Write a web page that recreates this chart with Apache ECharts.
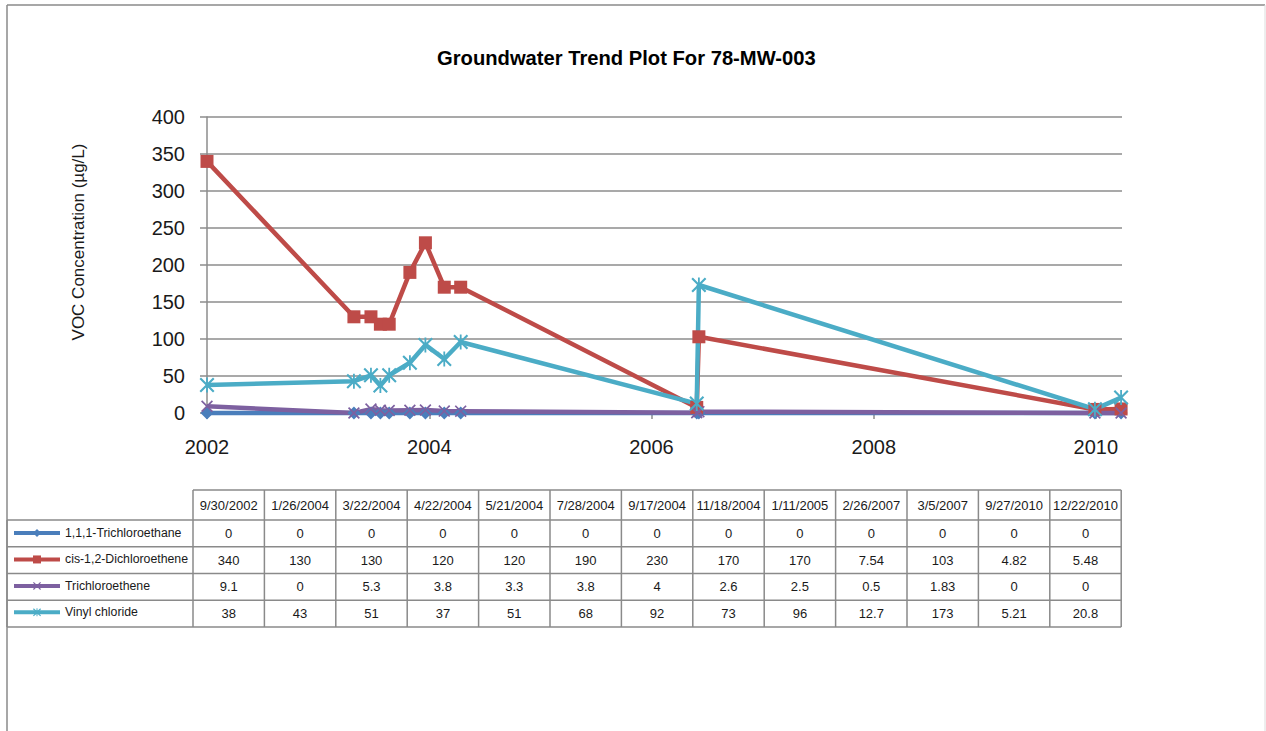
<!DOCTYPE html>
<html><head><meta charset="utf-8">
<script src="https://cdn.jsdelivr.net/npm/echarts@6/dist/echarts.min.js"></script>
<style>html,body{margin:0;padding:0;background:#fff}#c{width:1266px;height:731px}</style>
</head><body><div id="c"></div>
<script>
// ---- data ----
const dates = ['9/30/2002','1/26/2004','3/22/2004','4/22/2004','5/21/2004','7/28/2004','9/17/2004','11/18/2004','1/11/2005','2/26/2007','3/5/2007','9/27/2010','12/22/2010'];
const seriesNames = ['1,1,1-Trichloroethane','cis-1,2-Dichloroethene','Trichloroethene','Vinyl chloride'];
const tca = [0,0,0,0,0,0,0,0,0,0,0,0,0];
const dce = [340,130,130,120,120,190,230,170,170,7.54,103,4.82,5.48];
const tce = [9.1,0,5.3,3.8,3.3,3.8,4,2.6,2.5,0.5,1.83,0,0];
const vc  = [38,43,51,37,51,68,92,73,96,12.7,173,5.21,20.8];
const xTickLabels = ['2002','2004','2006','2008','2010'];
const yMin = 0, yMax = 400, yStep = 50;

// ---- helpers ----
const FONT = '"Liberation Sans", Arial, sans-serif';
function parseDate(s){ const p = s.split('/').map(Number); return Date.UTC(p[2], p[0]-1, p[1]); }
const t0 = parseDate(dates[0]);
const DAY = 86400000;
const days = dates.map(d => (parseDate(d) - t0) / DAY);
// axis ticks: anniversaries of the first sample date, labelled by year
const m0 = dates[0].split('/');
const xTickValues = xTickLabels.map(y => (parseDate(m0[0] + '/' + m0[1] + '/' + y) - t0) / DAY);
const xMax = days[days.length - 1] + 3;

const colors = ['#4A7EBB','#BE4B48','#7D60A0','#4BACC6'];
const xPath = 'path://M1,0 L5,4 L9,0 L10,1 L6,5 L10,9 L9,10 L5,6 L1,10 L0,9 L4,5 L0,1 Z';
const starPath = 'path://M1,0 L5,4 L9,0 L10,1 L6,5 L10,9 L9,10 L5,6 L1,10 L0,9 L4,5 L0,1 Z M4.4,0 L5.6,0 L5.6,10 L4.4,10 Z';
const symbols = ['diamond','rect',xPath,starPath];
const symbolSizes = [13,13,12,15];
const values = [tca,dce,tce,vc];

// ---- table graphic ----
const T = {left:7, colStart:193, colW:71.4, headTop:490, headBot:520, rowH:26.75};
const tableRight = T.colStart + T.colW * dates.length;
const lineStyle = {stroke:'#8a8a8a', lineWidth:1.5};
const g = [];
function line(x1,y1,x2,y2,st){ g.push({type:'line', silent:true, shape:{x1,y1,x2,y2}, style:st || lineStyle}); }
function text(x,y,s,size,extra){ g.push({type:'text', silent:true, x, y, style:Object.assign({text:s, fontSize:size, fontFamily:FONT, fill:'#1a1a1a', align:'center', verticalAlign:'middle'}, extra||{})}); }

// outer frame
line(7,5,1265,5,{stroke:'#8a8a8a',lineWidth:1.5});
line(7,5,7,731,{stroke:'#8a8a8a',lineWidth:1.5});
line(1265,5,1265,731,{stroke:'#dcdcdc',lineWidth:1});

// table grid
const tableBottom = T.headBot + T.rowH * values.length;
line(T.colStart, T.headTop, tableRight, T.headTop);
for (let r = 0; r <= values.length; r++) {
  const y = T.headBot + T.rowH * r;
  line(T.left, y, tableRight, y);
}
for (let c = 0; c <= dates.length; c++) {
  const x = T.colStart + T.colW * c;
  line(x, T.headTop, x, tableBottom);
}
line(T.left, T.headBot, T.left, tableBottom);
// header + cells
dates.forEach((d, c) => {
  const cx = T.colStart + T.colW * (c + 0.5);
  text(cx, (T.headTop + T.headBot) / 2, d, 13);
  values.forEach((arr, r) => {
    text(cx, T.headBot + T.rowH * (r + 0.5), String(arr[c]), 13);
  });
});
// y axis title
text(78, 242, 'VOC Concentration (µg/L)', 17, {});
g[g.length-1].rotation = Math.PI / 2;

const chart = echarts.init(document.getElementById('c'), null, {renderer:'svg'});
chart.setOption({
  animation: false,
  backgroundColor: '#fff',
  title: {
    text: 'Groundwater Trend Plot For 78-MW-003',
    left: 437, top: 48, padding: 0,
    textStyle: {fontFamily: FONT, fontSize: 20.2, fontWeight: 'bold', color: '#000'}
  },
  legend: {
    orient: 'vertical', left: 12, top: 527, padding: 0,
    itemWidth: 46, itemHeight: 10, itemGap: 14.45,
    selectedMode: false,
    data: seriesNames,
    lineStyle: {width: 4},
    textStyle: {fontFamily: FONT, fontSize: 12.3, color: '#1a1a1a'}
  },
  grid: {left: 207, top: 117, right: 144, bottom: 318, containLabel: false},
  xAxis: {
    type: 'value', min: 0, max: xMax,
    splitLine: {show: false},
    axisLine: {show: true, lineStyle: {color: '#8c8c8c', width: 1.5}},
    axisTick: {show: true, length: 6, customValues: xTickValues, lineStyle: {color: '#8c8c8c', width: 1.5}},
    axisLabel: {
      customValues: xTickValues, margin: 24,
      fontFamily: FONT, fontSize: 20, color: '#1a1a1a',
      formatter: v => xTickLabels[xTickValues.indexOf(v)] || ''
    }
  },
  yAxis: {
    type: 'value', min: yMin, max: yMax, interval: yStep,
    splitLine: {show: true, lineStyle: {color: '#8c8c8c', width: 1.5}},
    axisLine: {show: true, lineStyle: {color: '#8c8c8c', width: 1.5}},
    axisTick: {show: true, length: 7, lineStyle: {color: '#8c8c8c', width: 1.5}},
    axisLabel: {margin: 22, fontFamily: FONT, fontSize: 20, color: '#1a1a1a'}
  },
  graphic: {elements: g},
  series: seriesNames.map((name, i) => ({
    name, type: 'line', clip: false,
    data: days.map((d, k) => [d, values[i][k]]),
    symbol: symbols[i], symbolSize: symbolSizes[i],
    showAllSymbol: true,
    lineStyle: {width: 4.5, color: colors[i]},
    itemStyle: {color: colors[i]},
    emphasis: {disabled: true}
  }))
});
</script></body></html>
